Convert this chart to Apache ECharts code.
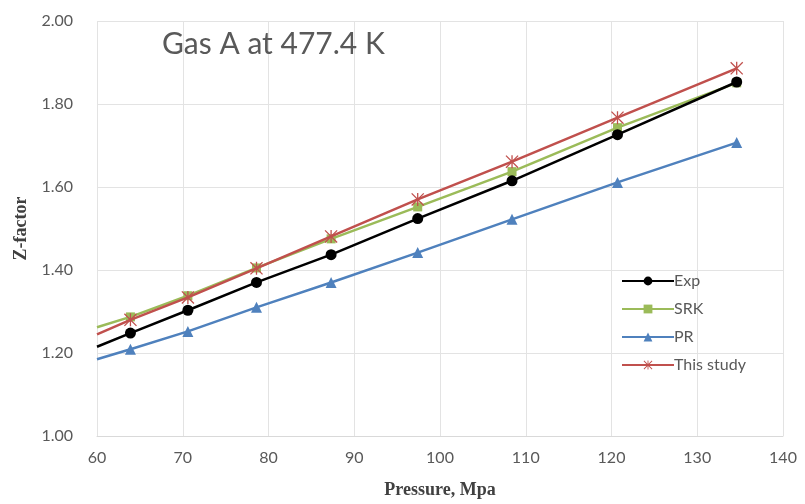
<!DOCTYPE html>
<html>
<head>
<meta charset="utf-8">
<script src="https://cdn.jsdelivr.net/npm/echarts@6/dist/echarts.min.js"></script>
<style>
  html, body { margin: 0; padding: 0; background: #fff; }
  #chart { width: 805px; height: 504px; }
</style>
</head>
<body>
<div id="chart"></div>
<script>
// pressure (MPa) of the measured points
var pressure = [63.9, 70.6, 78.6, 87.3, 97.4, 108.4, 120.7, 134.6];
// trend lines are drawn back to the axis start
var lineStart = 60;
var startExp = 1.215, startSrk = 1.262, startPr = 1.185, startStudy = 1.245;

var exp = [1.248, 1.303, 1.370, 1.437, 1.524, 1.615, 1.726, 1.853];
var srk = [1.287, 1.338, 1.405, 1.475, 1.552, 1.637, 1.743, 1.851];
var pr = [1.209, 1.252, 1.310, 1.370, 1.442, 1.522, 1.611, 1.707];
var study = [1.280, 1.334, 1.404, 1.481, 1.570, 1.661, 1.767, 1.886];

var xTicks = [60, 70, 80, 90, 100, 110, 120, 130, 140];
var yTicks = [1.0, 1.2, 1.4, 1.6, 1.8, 2.0];

var starPath = 'path://M9,0 L11,0 L11,20 L9,20 Z M0,1.4 L1.4,0 L20,18.6 L18.6,20 Z M18.6,0 L20,1.4 L1.4,20 L0,18.6 Z';

function build(start, vals){
    var out = [{value: [lineStart, start], symbol: 'none'}];
    vals.forEach(function(v, i){ out.push([pressure[i], v]); });
    return out;
}

var chart = echarts.init(document.getElementById('chart'));
var font = 'Lato, "Open Sans", sans-serif';

chart.setOption({
    animation: false,
    backgroundColor: '#fff',
    title: {
        text: 'Gas A at 477.4 K',
        left: 157, top: 24,
        textStyle: {fontFamily: font, fontSize: 30, fontWeight: 'normal', color: '#595959'}
    },
    grid: {left: 97, right: 22, top: 21, bottom: 67},
    legend: {
        orient: 'vertical',
        left: 616, top: 268,
        itemWidth: 52, itemHeight: 11, itemGap: 12,
        textStyle: {fontFamily: font, fontSize: 16, color: '#595959', padding: [0, 0, 0, -5]},
        data: ['Exp', 'SRK', 'PR', 'This study']
    },
    xAxis: {
        type: 'value', min: xTicks[0], max: xTicks[xTicks.length - 1], interval: 10,
        name: 'Pressure, Mpa', nameLocation: 'middle', nameGap: 45,
        nameTextStyle: {fontFamily: '"Liberation Serif", serif', fontWeight: 'bold', fontSize: 18, color: '#404040'},
        axisLine: {show: true, lineStyle: {color: '#d9d9d9'}},
        axisTick: {show: false},
        axisLabel: {fontFamily: font, fontSize: 16, color: '#595959', margin: 14},
        splitLine: {show: true, lineStyle: {color: '#e3e3e3'}}
    },
    yAxis: {
        type: 'value', min: yTicks[0], max: yTicks[yTicks.length - 1], interval: 0.2,
        name: 'Z-factor', nameLocation: 'middle', nameGap: 67, nameRotate: 90,
        nameTextStyle: {fontFamily: '"Liberation Serif", serif', fontWeight: 'bold', fontSize: 18, color: '#404040'},
        axisLine: {show: false},
        axisTick: {show: false},
        axisLabel: {fontFamily: font, fontSize: 16, color: '#595959', margin: 24,
            formatter: function(v){ return v.toFixed(2); }},
        splitLine: {show: true, lineStyle: {color: '#e3e3e3'}}
    },
    series: [
        {name: 'Exp', type: 'line', data: build(startExp, exp), z: 4,
            symbol: 'circle', symbolSize: 11,
            lineStyle: {color: '#000', width: 2.5}, itemStyle: {color: '#000'}},
        {name: 'SRK', type: 'line', data: build(startSrk, srk), z: 3,
            symbol: 'rect', symbolSize: 9,
            lineStyle: {color: '#9bbb59', width: 2.5}, itemStyle: {color: '#9bbb59'}},
        {name: 'PR', type: 'line', data: build(startPr, pr), z: 3,
            symbol: 'triangle', symbolSize: 11,
            lineStyle: {color: '#4f81bd', width: 2.5}, itemStyle: {color: '#4f81bd'}},
        {name: 'This study', type: 'line', data: build(startStudy, study), z: 5,
            symbol: starPath, symbolSize: 13,
            lineStyle: {color: '#c0504d', width: 2.5}, itemStyle: {color: '#c0504d'}}
    ]
});
</script>
</body>
</html>
